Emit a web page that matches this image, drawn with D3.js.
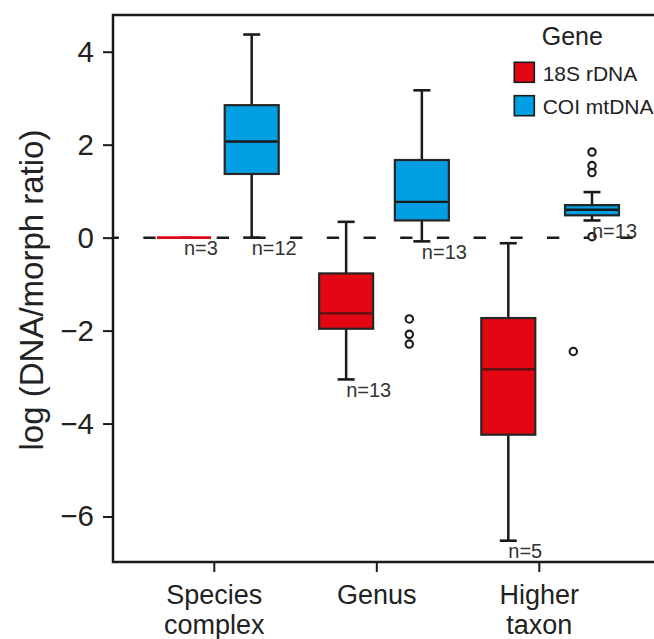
<!DOCTYPE html>
<html>
<head>
<meta charset="utf-8">
<script src="https://cdn.jsdelivr.net/npm/d3@7"></script>
<style>
  html, body { margin: 0; padding: 0; background: #ffffff; }
  svg { display: block; }
  text { font-family: "Liberation Sans", Arial, Helvetica, sans-serif; fill: #222; }
</style>
</head>
<body>
<svg id="chart" width="654" height="639"></svg>
<script>
// ---------------- data ----------------
const categories = ["Species complex", "Genus", "Higher taxon"];
const categoryLines = [["Species", "complex"], ["Genus"], ["Higher", "taxon"]];
const genes = ["18S rDNA", "COI mtDNA"];
const yTicks = [-6, -4, -2, 0, 2, 4];

// 18S rDNA box statistics per category
const rdnaLow  = [0.00, -3.05, -6.52];
const rdnaQ1   = [0.00, -1.96, -4.24];
const rdnaMed  = [0.00, -1.63, -2.83];
const rdnaQ3   = [0.00, -0.77, -1.73];
const rdnaHigh = [0.00,  0.34, -0.12];
const rdnaN    = [3, 13, 5];
const rdnaOutliers = [[], [-1.75, -2.08, -2.29], [-2.45]];

// COI mtDNA box statistics per category
const coiLow  = [0.00, -0.08, 0.37];
const coiQ1   = [1.37,  0.37, 0.48];
const coiMed  = [2.07,  0.77, 0.60];
const coiQ3   = [2.85,  1.67, 0.70];
const coiHigh = [4.37,  3.17, 0.98];
const coiN    = [12, 13, 13];
const coiOutliers = [[], [], [1.84, 1.55, 1.40, 0.02]];

const geneColors = ["#e30613", "#009fe3"];
const medianColors = ["#5a1212", "#1a1a1a"];

// ---------------- build ----------------
const svg = d3.select("#chart");
const W = 654, H = 639;
const plot = { left: 113, top: 15, right: 672, bottom: 562 };

const y = d3.scaleLinear().domain([-7, 4.79]).range([563, 15]);
const xTick = d3.scalePoint().domain(categories).range([214.3, 539.3]);
// box centre positions for each gene (dodged)
const xBox = [
  d3.scalePoint().domain(categories).range([184, 508.3]),
  d3.scalePoint().domain(categories).range([251.7, 592])
];
const xOut = [
  d3.scalePoint().domain(categories).range([245.3, 573.3]),
  d3.scalePoint().domain(categories).range([251.7, 592])
];

const boxW = 54, capW = 17;

const series = [
  { low: rdnaLow, q1: rdnaQ1, med: rdnaMed, q3: rdnaQ3, high: rdnaHigh, n: rdnaN, out: rdnaOutliers },
  { low: coiLow, q1: coiQ1, med: coiMed, q3: coiQ3, high: coiHigh, n: coiN, out: coiOutliers }
];

const boxes = [];
series.forEach((s, g) => {
  categories.forEach((c, i) => {
    boxes.push({ g, c, low: s.low[i], q1: s.q1[i], med: s.med[i], q3: s.q3[i],
                 high: s.high[i], n: s.n[i], out: s.out[i] });
  });
});

// dashed zero line
svg.append("line")
  .attr("x1", plot.left).attr("x2", W)
  .attr("y1", y(0)).attr("y2", y(0))
  .attr("stroke", "#1a1a1a").attr("stroke-width", 2.5)
  .attr("stroke-dasharray", "12.3 24.4")
  .attr("stroke-dashoffset", 6.4);

const bg = svg.append("g");
boxes.forEach(b => {
  const cx = xBox[b.g](b.c);
  if (b.q3 === b.q1 && b.high === b.low) {
    // degenerate box: all values identical
    bg.append("line")
      .attr("x1", cx - boxW / 2).attr("x2", cx + boxW / 2)
      .attr("y1", y(b.med)).attr("y2", y(b.med))
      .attr("stroke", geneColors[b.g]).attr("stroke-width", 2.6);
  } else {
    // whiskers
    bg.append("line").attr("x1", cx).attr("x2", cx)
      .attr("y1", y(b.q3)).attr("y2", y(b.high))
      .attr("stroke", "#1a1a1a").attr("stroke-width", 2.5);
    bg.append("line").attr("x1", cx).attr("x2", cx)
      .attr("y1", y(b.q1)).attr("y2", y(b.low))
      .attr("stroke", "#1a1a1a").attr("stroke-width", 2.5);
    [b.high, b.low].forEach(v => {
      bg.append("line").attr("x1", cx - capW / 2).attr("x2", cx + capW / 2)
        .attr("y1", y(v)).attr("y2", y(v))
        .attr("stroke", "#1a1a1a").attr("stroke-width", 2.6);
    });
    // box
    bg.append("rect")
      .attr("x", cx - boxW / 2).attr("width", boxW)
      .attr("y", y(b.q3)).attr("height", y(b.q1) - y(b.q3))
      .attr("fill", geneColors[b.g])
      .attr("stroke", "#262626").attr("stroke-width", 2.2);
    bg.append("line")
      .attr("x1", cx - boxW / 2 + 1).attr("x2", cx + boxW / 2 - 1)
      .attr("y1", y(b.med)).attr("y2", y(b.med))
      .attr("stroke", medianColors[b.g]).attr("stroke-width", 2.4);
  }
  // outliers
  const ox = xOut[b.g](b.c);
  b.out.forEach(v => {
    bg.append("circle").attr("cx", ox).attr("cy", y(v)).attr("r", 3.7)
      .attr("fill", "#fff").attr("stroke", "#1a1a1a").attr("stroke-width", 2.1);
  });
  // n labels
  bg.append("text")
    .attr("x", cx).attr("y", y(b.low) + 17.5)
    .attr("font-size", 20).style("fill", "#333")
    .text("n=" + b.n);
});

// frame
svg.append("path")
  .attr("d", `M${plot.right},${plot.top}H${plot.left}V${plot.bottom}H${plot.right}`)
  .attr("fill", "none").attr("stroke", "#1a1a1a").attr("stroke-width", 2.5);

// y axis
const yAxis = svg.append("g")
  .attr("transform", `translate(${plot.left},0)`)
  .call(d3.axisLeft(y).tickValues(yTicks).tickSize(10).tickPadding(9)
        .tickFormat(d => d3.format("")(d).replace("-", "\u2212")));
yAxis.select(".domain").remove();
yAxis.selectAll(".tick line").attr("stroke", "#1a1a1a").attr("stroke-width", 2);
yAxis.selectAll(".tick text").attr("font-size", 29.5)
  .style("font-family", "'Liberation Sans', Arial, sans-serif").style("fill", "#222");

// x axis ticks and labels
const xAxis = svg.append("g").attr("transform", `translate(0,${plot.bottom})`);
categories.forEach((c, i) => {
  xAxis.append("line").attr("x1", xTick(c)).attr("x2", xTick(c))
    .attr("y1", 0).attr("y2", 10).attr("stroke", "#1a1a1a").attr("stroke-width", 2);
  const t = xAxis.append("text").attr("text-anchor", "middle").attr("font-size", 27);
  categoryLines[i].forEach((ln, k) => {
    t.append("tspan").attr("x", xTick(c)).attr("y", 42 + k * 30).text(ln);
  });
});

// y title
svg.append("text")
  .attr("transform", `translate(43,290) rotate(-90)`)
  .attr("text-anchor", "middle").attr("font-size", 33)
  .text("log (DNA/morph ratio)");

// legend
const lg = svg.append("g");
lg.append("text").attr("x", 541.7).attr("y", 45).attr("font-size", 25).text("Gene");
genes.forEach((gname, g) => {
  const yy = 62.3 + g * 33.4;
  lg.append("rect").attr("x", 514.3).attr("y", yy).attr("width", 20).attr("height", 20)
    .attr("fill", geneColors[g]).attr("stroke", "#1a1a1a").attr("stroke-width", 1.6);
  lg.append("text").attr("x", 542.7).attr("y", yy + 18.5).attr("font-size", 21).text(gname);
});
</script>
</body>
</html>
